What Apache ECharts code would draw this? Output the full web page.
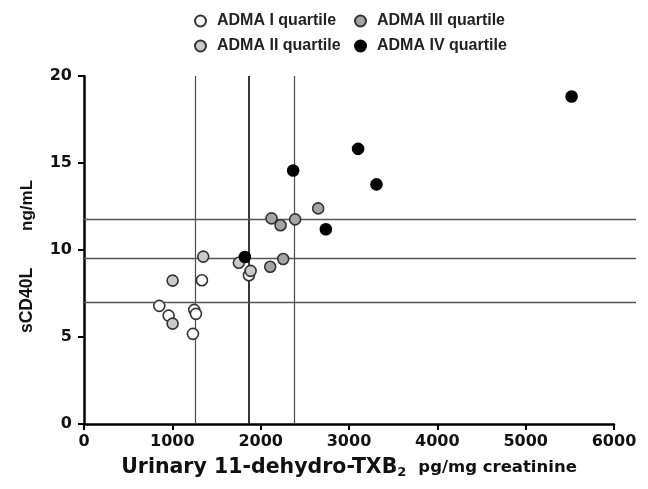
<!DOCTYPE html>
<html>
<head>
<meta charset="utf-8">
<script src="https://cdn.jsdelivr.net/npm/echarts@6/dist/echarts.min.js"></script>
<style>
html, body { margin: 0; padding: 0; background: #fff; }
#main { width: 648px; height: 489px; }
</style>
</head>
<body>
<div id="main"></div>
<script>
// ADMA quartiles: urinary 11-dehydro-TXB2 (x) vs sCD40L (y)
var q1X = [852, 958, 1233, 1248, 1267, 1335, 1867];
var q1Y = [6.79, 6.23, 5.18, 6.56, 6.33, 8.26, 8.55];
var q2X = [1003, 1003, 1350, 1753, 1886];
var q2Y = [5.77, 8.24, 9.62, 9.27, 8.80];
var q3X = [2108, 2255, 2123, 2225, 2390, 2651];
var q3Y = [9.04, 9.48, 11.82, 11.42, 11.76, 12.39];
var q4X = [1821, 2368, 2738, 3103, 3311, 5520];
var q4Y = [9.6, 14.57, 11.19, 15.81, 13.77, 18.82];

var names = ['ADMA I quartile', 'ADMA II quartile', 'ADMA III quartile', 'ADMA IV quartile'];
var fills = ['#ffffff', '#cacaca', '#a4a4a4', '#000000'];

// cut-off lines
var vLines = [1264, 1867, 2379];
var hLines = [11.78, 9.50, 7.02];

var xTicks = [0, 1000, 2000, 3000, 4000, 5000, 6000];
var yTicks = [0, 5, 10, 15, 20];

function pairs(xs, ys) {
	var out = [];
	for (var i = 0; i < xs.length; i++) out.push([xs[i], ys[i]]);
	return out;
}

var FONT = 'Liberation Sans';
var WIDE = 'DejaVu Sans';

var myChart = echarts.init(document.getElementById('main'), null, {renderer: 'canvas'});

var allX = [q1X, q2X, q3X, q4X];
var allY = [q1Y, q2Y, q3Y, q4Y];
var series = [];
for (var k = 0; k < 4; k++) {
	series.push({
		name: names[k],
		type: 'scatter',
		xAxisIndex: 0,
		yAxisIndex: 0,
		symbol: 'circle',
		symbolSize: 11,
		z: 5,
		itemStyle: {
			color: fills[k],
			borderColor: k == 3 ? '#000' : '#333',
			borderWidth: 1.6,
			opacity: 1
		},
		data: pairs(allX[k], allY[k])
	});
}

// vertical cut-offs on the main grid
series.push({
	type: 'scatter',
	xAxisIndex: 0,
	yAxisIndex: 0,
	data: [],
	silent: true,
	markLine: {
		symbol: 'none',
		silent: true,
		label: {show: false},
		animation: false,
		data: vLines.map(function (v, i) {
			return {xAxis: v, lineStyle: {type: 'solid', color: i == 1 ? '#222' : '#4a4a4a', width: i == 1 ? 1.8 : 1.2}};
		})
	}
});

// horizontal cut-offs run past the x axis end, so they sit on a wider hidden grid
series.push({
	type: 'scatter',
	xAxisIndex: 1,
	yAxisIndex: 1,
	data: [],
	silent: true,
	markLine: {
		symbol: 'none',
		silent: true,
		label: {show: false},
		animation: false,
		data: hLines.map(function (v) {
			return {yAxis: v, lineStyle: {type: 'solid', color: '#555', width: 1.3}};
		})
	}
});

var legendText = {fontFamily: FONT, fontWeight: 'bold', fontSize: 16, color: '#222', padding: [0, 0, 0, 6]};

var option = {
	animation: false,
	backgroundColor: '#fff',
	legend: [{
		orient: 'vertical',
		left: 189,
		top: 8,
		itemWidth: 11,
		itemHeight: 11,
		itemGap: 9,
		textStyle: legendText,
		data: [names[0], names[1]]
	}, {
		orient: 'vertical',
		left: 349,
		top: 8,
		itemWidth: 11,
		itemHeight: 11,
		itemGap: 9,
		textStyle: legendText,
		data: [names[2], names[3]]
	}],
	grid: [
		{left: 84, right: 34, top: 76, bottom: 65},
		{left: 84, right: 12, top: 76, bottom: 65}
	],
	xAxis: [{
		type: 'value',
		gridIndex: 0,
		min: xTicks[0],
		max: xTicks[xTicks.length - 1],
		interval: 1000,
		splitLine: {show: false},
		axisLine: {lineStyle: {color: '#000', width: 2.5}},
		axisTick: {inside: false, length: 6, lineStyle: {color: '#000', width: 2}},
		axisLabel: {margin: 10, color: '#111', fontFamily: WIDE, fontWeight: 'bold', fontSize: 16,
			formatter: function (v) { return String(v); }},
		name: '{a|Urinary 11-dehydro-TXB}{s|2}{b|pg/mg creatinine}',
		nameLocation: 'middle',
		nameGap: 33,
		nameTextStyle: {
			rich: {
				a: {fontFamily: WIDE, fontWeight: 'bold', fontSize: 20.5, color: '#111'},
				s: {fontFamily: WIDE, fontWeight: 'bold', fontSize: 13, color: '#111', padding: [9, 0, 0, 0]},
				b: {fontFamily: WIDE, fontWeight: 'bold', fontSize: 16.5, color: '#111', padding: [0, 0, 0, 12]}
			}
		}
	}, {
		type: 'value',
		gridIndex: 1,
		min: 0,
		max: 6000 * 552 / 530,
		show: false
	}],
	yAxis: [{
		type: 'value',
		gridIndex: 0,
		min: yTicks[0],
		max: yTicks[yTicks.length - 1],
		interval: 5,
		splitLine: {show: false},
		axisLine: {lineStyle: {color: '#000', width: 2.5}},
		axisTick: {inside: false, length: 6, lineStyle: {color: '#000', width: 2}},
		axisLabel: {margin: 12, color: '#111', fontFamily: WIDE, fontWeight: 'bold', fontSize: 16},
		name: '{a|sCD40L}{b|ng/mL}',
		nameLocation: 'middle',
		nameGap: 48,
		nameTextStyle: {
			rich: {
				a: {fontFamily: FONT, fontWeight: 'bold', fontSize: 17.5, color: '#111'},
				b: {fontFamily: FONT, fontWeight: 'bold', fontSize: 17, color: '#111', padding: [0, 13, 0, 37]}
			}
		}
	}, {
		type: 'value',
		gridIndex: 1,
		min: 0,
		max: 20,
		show: false
	}],
	series: series
};

myChart.setOption(option);
</script>
</body>
</html>
